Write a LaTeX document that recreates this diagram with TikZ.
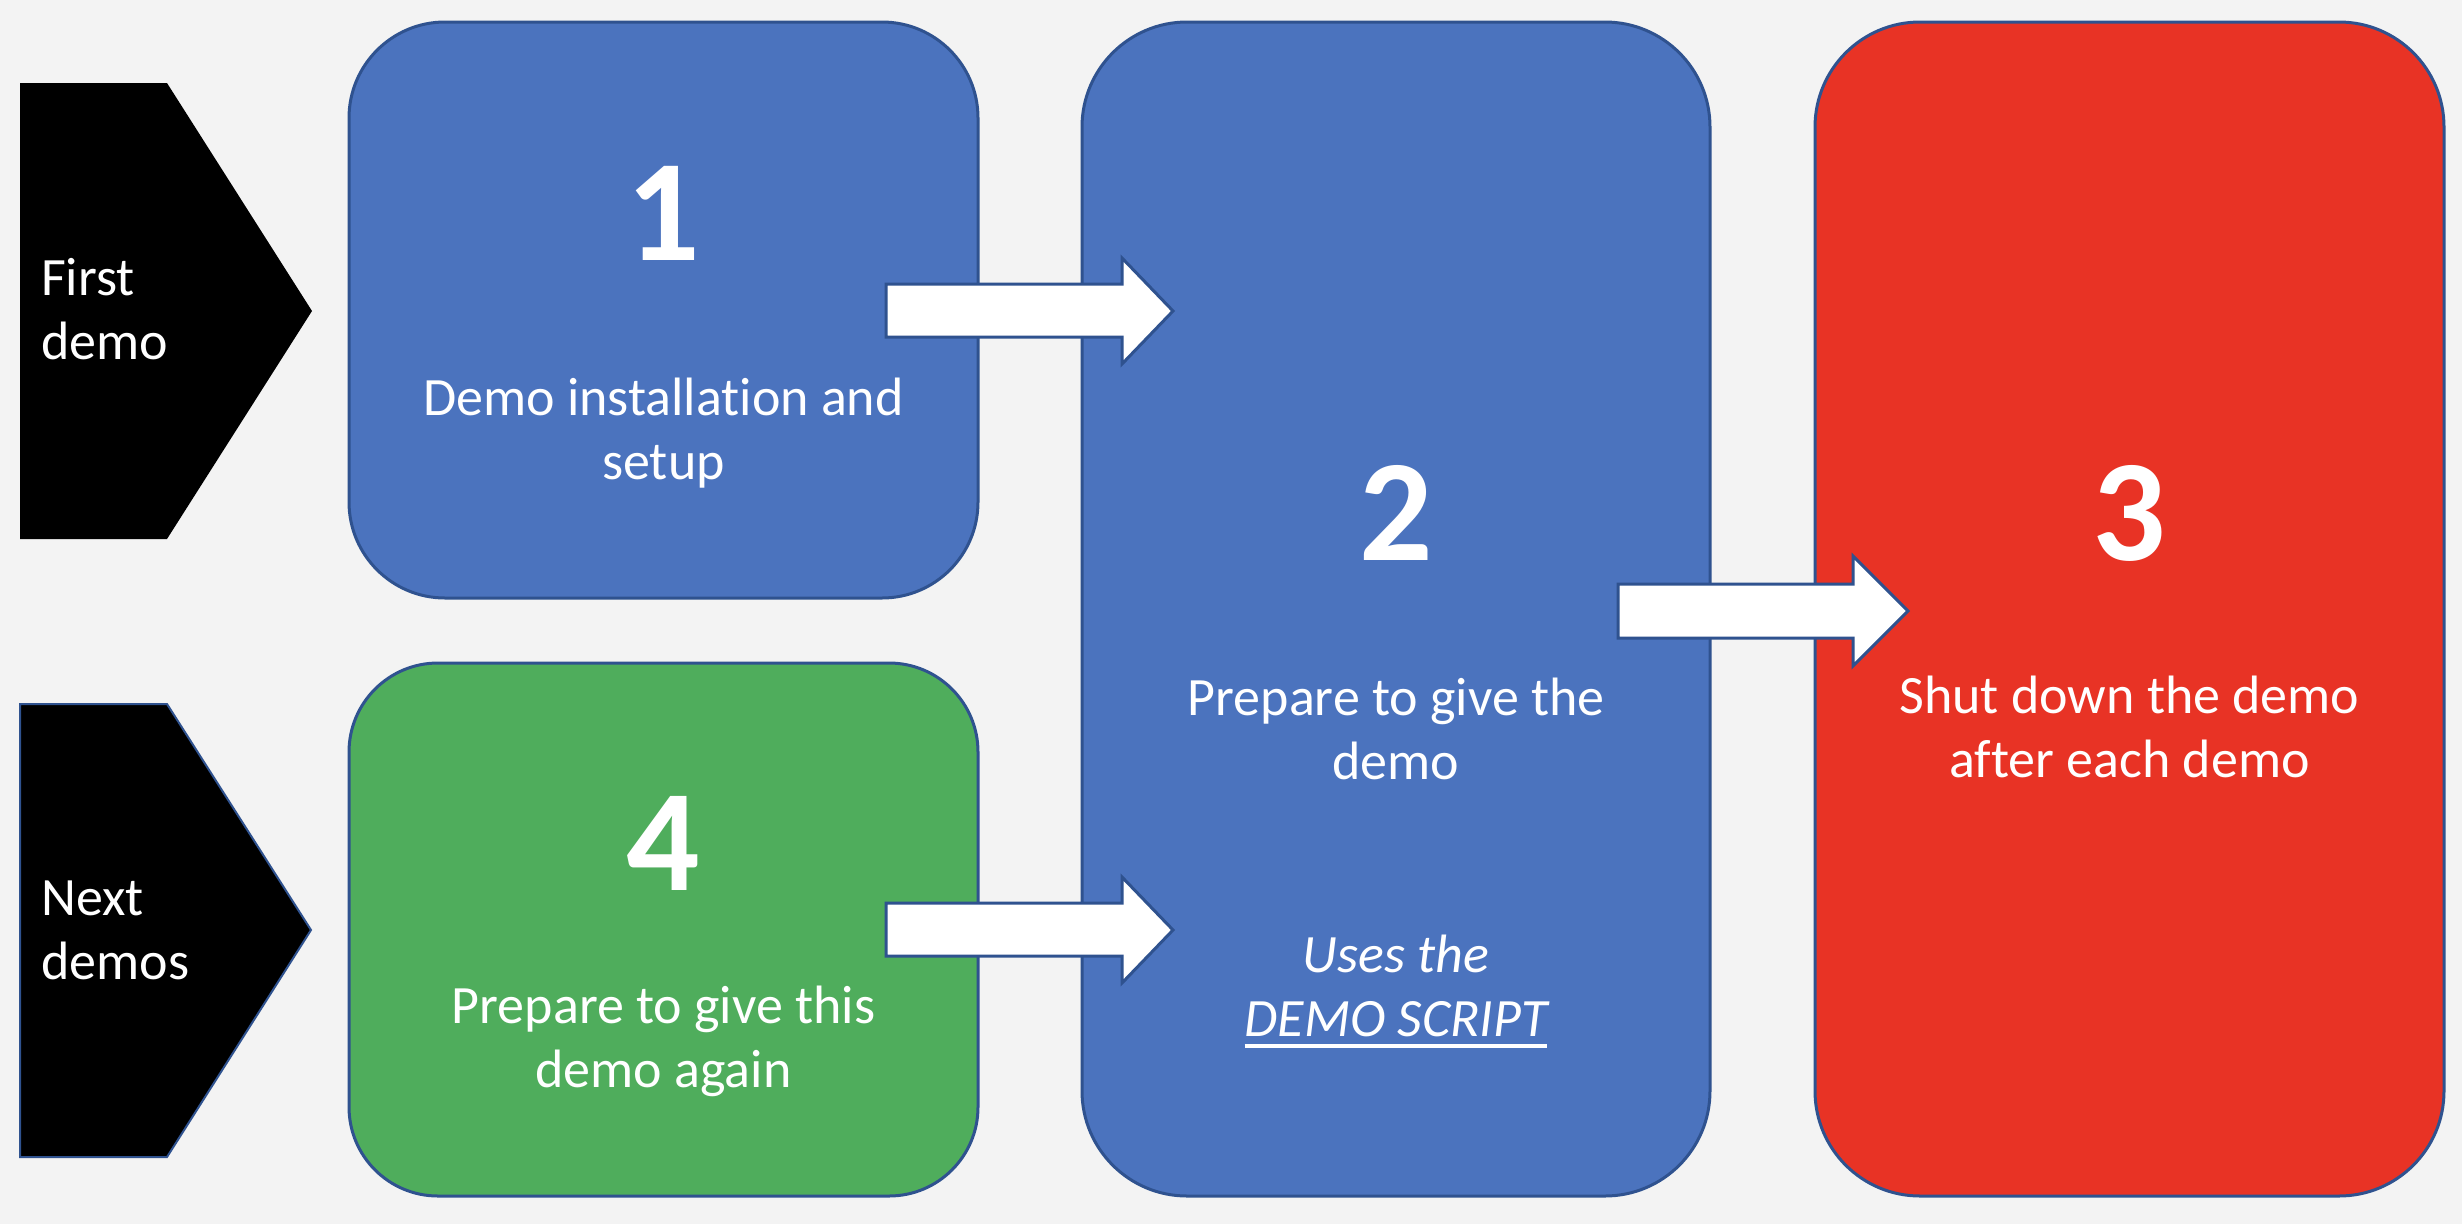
\documentclass[tikz,border=0pt]{standalone}
\usepackage{fontspec}
\setmainfont[Ligatures={NoCommon,NoContextual}]{Carlito}
\definecolor{bgc}{HTML}{F3F3F3}
\definecolor{boxblue}{HTML}{4B73BE}
\definecolor{boxgreen}{HTML}{4FAD5C}
\definecolor{boxred}{HTML}{E83325}
\definecolor{edgeblue}{HTML}{2F528F}
\newcommand\twol[3][c]{\begin{tabular}[t]{@{}#1@{}}#2\\#3\end{tabular}}
\newcommand\myul[1]{\setbox0\hbox{#1}\rlap{\rule[-12pt]{\wd0}{4pt}}\box0}
\begin{document}
\begin{tikzpicture}[x=1pt,y=-1pt,
  roundbox/.style={draw=edgeblue, line width=3pt, inner sep=0pt},
  blockarrow/.style={draw=edgeblue, fill=white, line width=3pt, line join=miter},
  bignum/.style={text=white, inner sep=0pt, anchor=base, font=\fontsize{145}{145}\selectfont\bfseries},
  bodytext/.style={text=white, inner sep=0pt, anchor=base, font=\fontsize{54}{64}\selectfont}]
\fill[bgc] (0,0) rectangle (2462,1224);
\useasboundingbox (0,0) rectangle (2462,1224);

% side pentagon arrows
\fill[black] (20,83) -- (167,83) -- (312,311) -- (167,539) -- (20,539) -- cycle;
\draw[fill=black, draw=edgeblue, line width=2pt] (20,704) -- (167,704) -- (311,930) -- (167,1157) -- (20,1157) -- cycle;
\node[bodytext, anchor=base west] (tfirst) at (41,295) {\twol[l]{First}{demo}};
\node[bodytext, anchor=base west] (tnext) at (41,915) {\twol[l]{Next}{demos}};

% boxes
\node[roundbox, fill=boxblue, minimum width=629pt, minimum height=576pt, rounded corners=96pt] (b1) at (663.5,310) {};
\node[roundbox, fill=boxgreen, minimum width=629pt, minimum height=533pt, rounded corners=89pt] (b4) at (663.5,929.5) {};
\node[roundbox, fill=boxblue, minimum width=628pt, minimum height=1174pt, rounded corners=105pt] (b2) at (1396,609) {};
\node[roundbox, fill=boxred, minimum width=629pt, minimum height=1174pt, rounded corners=105pt] (b3) at (2129.5,609) {};

% box texts
\node[bignum] (n1) at (b1.center |- 0,260) {1};
\node[bodytext] (t1) at (b1.center |- 0,415) {\twol{Demo installation and}{setup}};
\node[bignum] (n4) at (b4.center |- 0,890) {4};
\node[bodytext] (t4) at (b4.center |- 0,1023) {\twol{Prepare to give this}{demo again}};
\node[bignum] (n2) at (b2.center |- 0,560) {2};
\node[bodytext] (t2) at (b2.center |- 0,715) {\twol{Prepare to give the}{demo}};
\node[bodytext] (t2b) at (b2.center |- 0,972) {\itshape\twol{Uses the}{\myul{DEMO SCRIPT}}};
\node[bignum] (n3) at (b3.center |- 0,560) {3};
\node[bodytext] (t3) at (b3.center |- 0,713) {\twol{Shut down the demo}{after each demo}};

% block arrows
\draw[blockarrow] (886,284) -- (1122,284) -- (1122,258) -- (1173,311) -- (1122,364) -- (1122,337) -- (886,337) -- cycle;
\draw[blockarrow] (886,903) -- (1122,903) -- (1122,877) -- (1173,930) -- (1122,983) -- (1122,956) -- (886,956) -- cycle;
\draw[blockarrow] (1618,584) -- (1853,584) -- (1853,556) -- (1908,611) -- (1853,666) -- (1853,638) -- (1618,638) -- cycle;
\end{tikzpicture}
\end{document}
